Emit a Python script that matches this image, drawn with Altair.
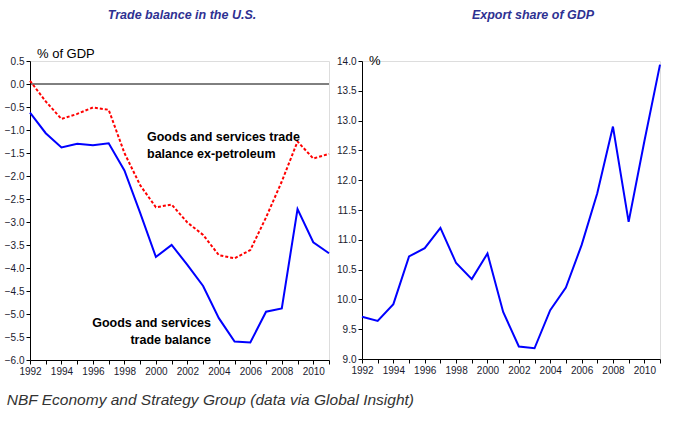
import altair as alt
import pandas as pd

years = list(range(1992, 2012))
trade_balance = [-0.62, -1.07, -1.38, -1.30, -1.33, -1.29, -1.88, -2.80, -3.76, -3.50,
                 -3.93, -4.39, -5.09, -5.60, -5.62, -4.95, -4.88, -2.72, -3.44, -3.68]
ex_petroleum = [0.07, -0.38, -0.76, -0.65, -0.51, -0.56, -1.50, -2.20, -2.68, -2.62,
                -3.01, -3.28, -3.72, -3.79, -3.61, -2.90, -2.12, -1.25, -1.62, -1.52]
export_share = [9.71, 9.64, 9.92, 10.72, 10.86, 11.20, 10.61, 10.34, 10.77, 9.79,
                9.21, 9.18, 9.82, 10.20, 10.91, 11.78, 12.90, 11.30, 12.65, 13.94]

left_ticks = [0.5, 0.0, -0.5, -1.0, -1.5, -2.0, -2.5, -3.0, -3.5, -4.0, -4.5, -5.0, -5.5, -6.0]
right_ticks = [9.0, 9.5, 10.0, 10.5, 11.0, 11.5, 12.0, 12.5, 13.0, 13.5, 14.0]

FONT = "Liberation Sans, Arial, sans-serif"
LABEL_COLOR = "#1a1a2e"
TITLE_COLOR = "#2e3192"

df_left = pd.DataFrame({"year": years, "tb": trade_balance, "ex": ex_petroleum})
df_right = pd.DataFrame({"year": years, "share": export_share})


def x_axis():
    return alt.Axis(values=years, format="d", labelExpr="datum.value % 2 == 0 ? datum.label : ''",
                    grid=False, tickSize=4, labelFont=FONT, labelFontSize=10, labelColor=LABEL_COLOR,
                    domainColor="black", tickColor="black", title=None, labelPadding=2,
                    labelFlush=False, labelOverlap=False)


def x_enc():
    return alt.X("year:Q", scale=alt.Scale(domain=[1992, 2011], nice=False, zero=False), axis=x_axis())


def y_axis(vals):
    return alt.Axis(values=vals, format=".1f", grid=False, tickSize=4, labelFont=FONT,
                    labelFontSize=10, labelColor=LABEL_COLOR, domainColor="black",
                    tickColor="black", title=None, labelPadding=2, labelOverlap=False, labelFlush=False)


y_left_scale = alt.Scale(domain=[-6.0, 0.5], nice=False, zero=False)

base_l = alt.Chart(df_left)
blue_line = base_l.mark_line(color="#0000ff", strokeWidth=2).encode(
    x=x_enc(), y=alt.Y("tb:Q", scale=y_left_scale, axis=y_axis(left_ticks)))
red_line = base_l.mark_line(color="#ff0000", strokeWidth=2, strokeDash=[3, 2]).encode(
    x=x_enc(), y=alt.Y("ex:Q", scale=y_left_scale, axis=y_axis(left_ticks)))
zero_rule = alt.Chart(pd.DataFrame({"z": [0.0]})).mark_rule(color="black", strokeWidth=1).encode(
    y=alt.Y("z:Q", scale=y_left_scale, axis=y_axis(left_ticks)))


def text_layer(txt, x, y, **kw):
    return alt.Chart(pd.DataFrame({"t": [txt]})).mark_text(**kw).encode(
        text="t", x=alt.value(x), y=alt.value(y))


title_kw = dict(align="center", baseline="middle", font=FONT, fontSize=12.5, fontStyle="italic",
                fontWeight="bold", color=TITLE_COLOR)

left_title = text_layer("Trade balance in the U.S.", 152, -46, **title_kw)
unit_left = text_layer("% of GDP", 7, -7, align="left", baseline="middle", font=FONT, fontSize=13,
                       color="black")
ann1 = text_layer(["Goods and services trade", "balance ex-petroleum"], 117, 76, align="left",
                  baseline="middle", font=FONT, fontWeight="bold", fontSize=12.5, color="black",
                  lineHeight=17)
ann2 = text_layer(["Goods and services", "trade balance"], 181, 262, align="right",
                  baseline="middle", font=FONT, fontWeight="bold", fontSize=12.5, color="black",
                  lineHeight=17)

left = alt.layer(zero_rule, red_line, blue_line, unit_left, ann1, ann2, left_title).properties(
    width=299, height=299)

share_line = alt.Chart(df_right).mark_line(color="#0000ff", strokeWidth=2).encode(
    x=x_enc(),
    y=alt.Y("share:Q", scale=alt.Scale(domain=[9.0, 14.0], nice=False, zero=False),
            axis=y_axis(right_ticks)))
unit_right = text_layer("%", 7, 0, align="left", baseline="middle", font=FONT, fontSize=13,
                        color="black")
right_title = text_layer("Export share of GDP", 171, -46, **title_kw)

right = alt.layer(share_line, unit_right, right_title).properties(width=298, height=298)

chart = alt.hconcat(left, right, spacing=2).properties(
    padding={"left": 3, "top": 8, "right": 5, "bottom": 5},
    title=alt.TitleParams("NBF Economy and Strategy Group (data via Global Insight)", orient="bottom",
                          anchor="start", font=FONT, fontSize=15.5, fontStyle="italic",
                          fontWeight="normal", color="#333333", offset=16, dx=3)
).configure_view(stroke=None).configure(background="white")

chart.save("out.html", embed_options={"renderer": "svg", "actions": False})
